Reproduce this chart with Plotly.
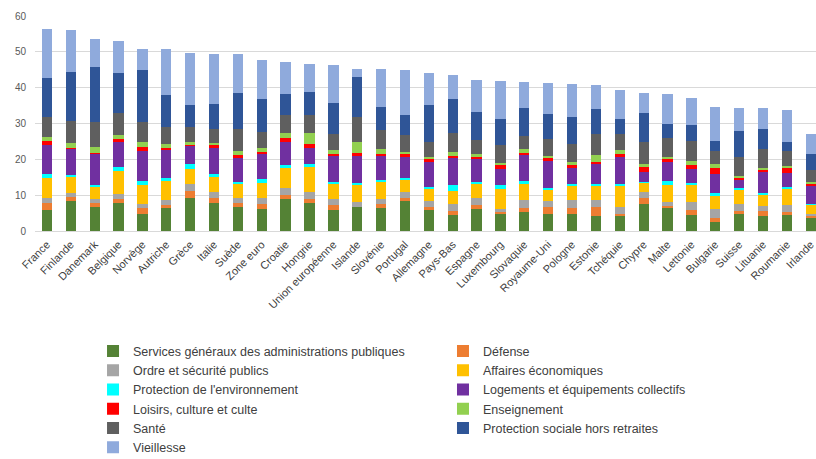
import plotly.graph_objects as go

# Dépenses publiques par fonction, en % du PIB
countries = [
    "France", "Finlande", "Danemark", "Belgique", "Norvège", "Autriche", "Grèce",
    "Italie", "Suède", "Zone euro", "Croatie", "Hongrie", "Union européenne",
    "Islande", "Slovénie", "Portugal", "Allemagne", "Pays-Bas", "Espagne",
    "Luxembourg", "Slovaquie", "Royaume-Uni", "Pologne", "Estonie", "Tchéquie",
    "Chypre", "Malte", "Lettonie", "Bulgarie", "Suisse", "Lituanie", "Roumanie",
    "Irlande",
]

services_generaux = [6.0, 8.3, 6.8, 7.9, 4.8, 6.5, 9.1, 7.9, 6.7, 6.2, 8.8, 7.9, 6.0, 6.7, 6.5, 8.4, 5.8,
                     4.4, 6.2, 4.7, 5.4, 4.7, 4.7, 4.2, 4.2, 7.6, 6.3, 4.4, 2.6, 4.8, 4.2, 4.5, 3.7]
defense = [1.9, 1.2, 1.1, 0.9, 1.5, 0.7, 2.2, 1.2, 1.2, 1.2, 1.2, 1.1, 1.2, 0.1, 0.9, 0.9, 0.9,
           1.2, 1.0, 0.6, 0.9, 2.0, 1.6, 2.5, 0.6, 1.7, 0.7, 1.6, 1.1, 0.8, 1.4, 0.8, 0.5]
ordre_securite = [1.4, 1.1, 1.0, 1.4, 1.1, 1.4, 1.9, 1.9, 1.2, 1.9, 2.1, 2.0, 1.8, 1.4, 1.6, 1.6, 1.7,
                  1.8, 2.1, 0.9, 2.4, 1.7, 2.3, 2.0, 1.9, 1.6, 1.2, 2.1, 2.5, 1.8, 1.4, 1.9, 0.6]
affaires_eco = [5.6, 4.6, 3.5, 6.5, 5.4, 5.6, 4.0, 4.1, 4.2, 4.2, 5.4, 7.1, 4.0, 4.6, 4.7, 3.4, 3.2,
                3.9, 3.7, 5.4, 4.3, 3.0, 4.0, 4.0, 5.9, 2.6, 4.5, 4.9, 3.8, 4.0, 3.2, 4.6, 2.5]
environnement = [0.9, 0.5, 0.4, 1.2, 1.2, 0.5, 1.6, 0.9, 0.4, 0.9, 0.8, 0.5, 0.8, 0.7, 0.5, 0.6, 0.7,
                 1.4, 0.7, 1.1, 1.0, 0.7, 0.4, 0.5, 0.6, 0.3, 1.3, 0.5, 0.5, 0.6, 0.5, 0.5, 0.3]
logements = [8.2, 7.2, 8.7, 7.2, 8.3, 8.1, 5.1, 7.3, 6.8, 7.2, 6.4, 4.7, 7.1, 7.7, 6.7, 5.8, 7.2,
             7.8, 6.3, 4.5, 7.2, 7.4, 4.7, 5.6, 7.5, 2.8, 5.5, 3.7, 5.3, 2.5, 5.9, 4.0, 5.1]
loisirs = [1.1, 0.3, 0.3, 0.5, 1.1, 0.5, 0.2, 0.6, 0.7, 0.5, 1.2, 0.9, 0.7, 0.5, 0.7, 0.7, 0.5,
           0.4, 0.7, 1.1, 0.7, 0.8, 0.7, 0.5, 0.7, 1.3, 0.5, 1.2, 1.9, 0.2, 0.3, 1.2, 0.5]
enseignement = [1.1, 1.3, 1.6, 1.1, 1.5, 0.9, 0.7, 0.6, 1.1, 1.0, 1.5, 3.2, 0.9, 3.0, 1.2, 0.6, 0.7,
                1.1, 0.7, 0.8, 0.9, 0.6, 0.9, 1.9, 1.1, 0.9, 0.7, 1.1, 1.1, 0.6, 0.8, 0.6, 0.5]
sante = [5.6, 6.1, 6.9, 6.3, 5.5, 4.9, 4.2, 3.9, 6.3, 4.5, 4.9, 4.9, 4.7, 7.1, 5.4, 4.8, 4.1,
         5.4, 3.9, 4.8, 3.7, 4.7, 4.9, 6.0, 4.7, 6.0, 5.3, 5.6, 3.5, 5.3, 5.3, 4.2, 3.2]
protection_sociale = [11.0, 13.9, 15.4, 11.2, 14.4, 8.8, 6.2, 7.1, 10.0, 9.1, 6.0, 6.5, 8.6, 11.2, 6.5, 5.6, 10.4,
                      9.3, 7.9, 7.4, 7.9, 7.0, 7.7, 6.8, 4.0, 8.2, 4.0, 4.4, 2.8, 7.2, 5.4, 2.6, 4.5]
vieillesse = [13.6, 11.6, 8.0, 8.8, 6.1, 12.8, 14.6, 14.0, 10.7, 10.9, 8.9, 7.9, 10.4, 2.2, 10.4, 12.4, 9.0,
              6.8, 8.9, 10.7, 7.2, 8.8, 9.2, 6.7, 8.1, 5.6, 8.1, 7.7, 9.6, 6.5, 5.8, 8.9, 5.6]

# (label, values, colour, legend column)
series = [
    ("Services généraux des administrations publiques", services_generaux, "#548235", "legend"),
    ("Défense", defense, "#ED7D31", "legend2"),
    ("Ordre et sécurité publics", ordre_securite, "#A5A5A5", "legend"),
    ("Affaires économiques", affaires_eco, "#FFC000", "legend2"),
    ("Protection de l'environnement", environnement, "#00FFFF", "legend"),
    ("Logements et équipements collectifs", logements, "#7030A0", "legend2"),
    ("Loisirs, culture et culte", loisirs, "#FF0000", "legend"),
    ("Enseignement", enseignement, "#92D050", "legend2"),
    ("Santé", sante, "#5F5F5F", "legend"),
    ("Protection sociale hors retraites", protection_sociale, "#2F5597", "legend2"),
    ("Vieillesse", vieillesse, "#8FAADC", "legend"),
]

fig = go.Figure()
for name, vals, color, leg in series:
    fig.add_trace(go.Bar(
        x=countries, y=vals, name=name, legend=leg,
        marker=dict(color=color, line=dict(width=0)),
    ))

FONT = "Liberation Sans, Arial, sans-serif"
legend_common = dict(
    xanchor="left", yanchor="top", y=-0.49, traceorder="normal",
    font=dict(family=FONT, size=12.5, color="#404040"),
    bgcolor="rgba(0,0,0,0)", borderwidth=0,
)

fig.update_layout(
    width=816, height=459,
    barmode="stack", bargap=0.57,
    margin=dict(l=35, r=0, t=16, b=228, autoexpand=False),
    plot_bgcolor="white", paper_bgcolor="white",
    font=dict(family=FONT),
    xaxis=dict(
        type="category", range=[-0.5, 32.22], tickangle=-45,
        tickfont=dict(size=11, color="#404040"),
        showgrid=False, showline=False, ticks="", ticklabelstandoff=4,
    ),
    yaxis=dict(
        range=[0, 60], dtick=10, gridcolor="#D9D9D9", gridwidth=1,
        zeroline=True, zerolinecolor="#D9D9D9", zerolinewidth=1,
        tickfont=dict(size=10, color="#595959"), ticks="", ticklabelstandoff=8,
    ),
    legend=dict(x=0.0743, **legend_common),
    legend2=dict(x=0.5224, **legend_common),
    # chart title sits above the top of the page, only its lower edge shows
    annotations=[dict(
        text="Dépenses publiques par fonction (en % du PIB)",
        xref="paper", yref="paper", x=0.493, y=1, xanchor="center", yanchor="bottom",
        yshift=13.5, showarrow=False, font=dict(family=FONT, size=13, color="#8C8C8C"),
    )],
)

fig.write_html("out.html")
